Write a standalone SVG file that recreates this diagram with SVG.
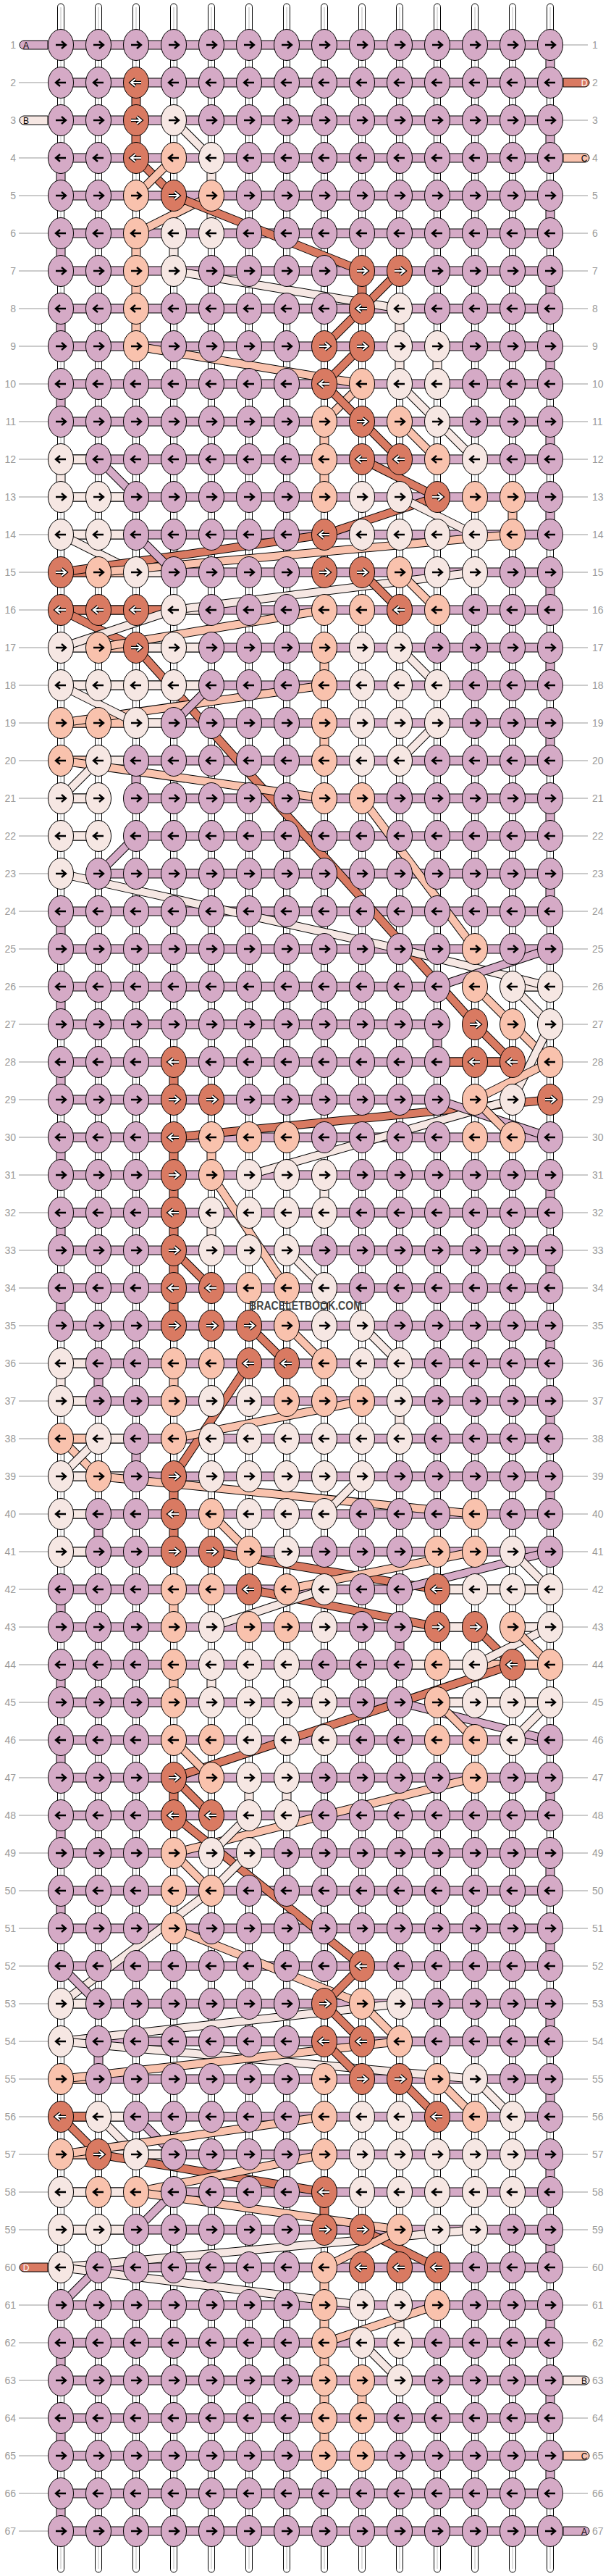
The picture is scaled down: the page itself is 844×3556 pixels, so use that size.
<svg xmlns="http://www.w3.org/2000/svg" width="844" height="3556" viewBox="0 0 844 3556">
<style>
text{font-family:"Liberation Sans",Arial,sans-serif}
.lbl{font-size:14px;fill:#9a9a9a}
.stl{font-size:12px}
.hb{fill:#d5aac6;stroke:#000}
.vp{fill:#d5aac6;stroke:#000}
.vd{fill:#d97a62;stroke:#000}
.vo{fill:#f9c2ad;stroke:#000}
.vl{fill:#f6e7e3;stroke:#000}
.vw{fill:#fff}
.x{fill:none;stroke:#000;stroke-width:12}
.cd{fill:none;stroke:#d97a62;stroke-width:10}
.co{fill:none;stroke:#f9c2ad;stroke-width:10}
.cl{fill:none;stroke:#f6e7e3;stroke-width:10}
.cp{fill:none;stroke:#d5aac6;stroke-width:10}
.d{fill:#d97a62}.o{fill:#f9c2ad}.l{fill:#f6e7e3}
</style>
<defs>
<g id="R"><ellipse rx="17.5" ry="21.5" stroke="#000"/><path d="M-7 0H6M1-5L7 0L1 5" fill="none" stroke="#000" stroke-width="2.4"/></g>
<g id="L"><ellipse rx="17.5" ry="21.5" stroke="#000"/><path d="M7 0H-6M-1-5L-7 0L-1 5" fill="none" stroke="#000" stroke-width="2.4"/></g>
<g id="RW"><ellipse rx="17.5" ry="21.5" stroke="#000"/><path d="M-7 0H6M1-5L7 0L1 5" fill="none" stroke="#000" stroke-width="4.6"/><path d="M-7 0H6M1-5L7 0L1 5" fill="none" stroke="#fff" stroke-width="2.2"/></g>
<g id="LW"><ellipse rx="17.5" ry="21.5" stroke="#000"/><path d="M7 0H-6M-1-5L-7 0L-1 5" fill="none" stroke="#000" stroke-width="4.6"/><path d="M7 0H-6M-1-5L-7 0L-1 5" fill="none" stroke="#fff" stroke-width="2.2"/></g>
</defs>
<rect width="844" height="3556" fill="#fff"/>
<g id="strings" fill="#fff" stroke="#000">
<rect x="79.5" y="5" width="9" height="3546" rx="4.5"/><rect x="131.5" y="5" width="9" height="3546" rx="4.5"/><rect x="183.5" y="5" width="9" height="3546" rx="4.5"/><rect x="235.5" y="5" width="9" height="3546" rx="4.5"/><rect x="287.5" y="5" width="9" height="3546" rx="4.5"/><rect x="339.5" y="5" width="9" height="3546" rx="4.5"/><rect x="391.5" y="5" width="9" height="3546" rx="4.5"/><rect x="443.5" y="5" width="9" height="3546" rx="4.5"/><rect x="495.5" y="5" width="9" height="3546" rx="4.5"/><rect x="547.5" y="5" width="9" height="3546" rx="4.5"/><rect x="599.5" y="5" width="9" height="3546" rx="4.5"/><rect x="651.5" y="5" width="9" height="3546" rx="4.5"/><rect x="703.5" y="5" width="9" height="3546" rx="4.5"/><rect x="755.5" y="5" width="9" height="3546" rx="4.5"/>
<path d="M84 10V3546M136 10V3546M188 10V3546M240 10V3546M292 10V3546M344 10V3546M396 10V3546M448 10V3546M500 10V3546M552 10V3546M604 10V3546M656 10V3546M708 10V3546M760 10V3546" stroke="#aaa" stroke-width="0.8"/>
</g>
<g id="labels">
<path d="M26 114H66M26 218H66M26 270H66M26 322H66M26 374H66M26 426H66M26 478H66M26 530H66M26 582H66M26 634H66M26 686H66M26 738H66M26 790H66M26 842H66M26 894H66M26 946H66M26 998H66M26 1050H66M26 1102H66M26 1154H66M26 1206H66M26 1258H66M26 1310H66M26 1362H66M26 1414H66M26 1466H66M26 1518H66M26 1570H66M26 1622H66M26 1674H66M26 1726H66M26 1778H66M26 1830H66M26 1882H66M26 1934H66M26 1986H66M26 2038H66M26 2090H66M26 2142H66M26 2194H66M26 2246H66M26 2298H66M26 2350H66M26 2402H66M26 2454H66M26 2506H66M26 2558H66M26 2610H66M26 2662H66M26 2714H66M26 2766H66M26 2818H66M26 2870H66M26 2922H66M26 2974H66M26 3026H66M26 3078H66M26 3182H66M26 3234H66M26 3286H66M26 3338H66M26 3390H66M26 3442H66M26 3494H66M778 62H812M778 166H812M778 270H812M778 322H812M778 374H812M778 426H812M778 478H812M778 530H812M778 582H812M778 634H812M778 686H812M778 738H812M778 790H812M778 842H812M778 894H812M778 946H812M778 998H812M778 1050H812M778 1102H812M778 1154H812M778 1206H812M778 1258H812M778 1310H812M778 1362H812M778 1414H812M778 1466H812M778 1518H812M778 1570H812M778 1622H812M778 1674H812M778 1726H812M778 1778H812M778 1830H812M778 1882H812M778 1934H812M778 1986H812M778 2038H812M778 2090H812M778 2142H812M778 2194H812M778 2246H812M778 2298H812M778 2350H812M778 2402H812M778 2454H812M778 2506H812M778 2558H812M778 2610H812M778 2662H812M778 2714H812M778 2766H812M778 2818H812M778 2870H812M778 2922H812M778 2974H812M778 3026H812M778 3078H812M778 3130H812M778 3182H812M778 3234H812M778 3338H812M778 3442H812" stroke="#bbb" stroke-width="1.5"/>
<g class="lbl" text-anchor="end"><text x="22" y="67">1</text><text x="22" y="119">2</text><text x="22" y="171">3</text><text x="22" y="223">4</text><text x="22" y="275">5</text><text x="22" y="327">6</text><text x="22" y="379">7</text><text x="22" y="431">8</text><text x="22" y="483">9</text><text x="22" y="535">10</text><text x="22" y="587">11</text><text x="22" y="639">12</text><text x="22" y="691">13</text><text x="22" y="743">14</text><text x="22" y="795">15</text><text x="22" y="847">16</text><text x="22" y="899">17</text><text x="22" y="951">18</text><text x="22" y="1003">19</text><text x="22" y="1055">20</text><text x="22" y="1107">21</text><text x="22" y="1159">22</text><text x="22" y="1211">23</text><text x="22" y="1263">24</text><text x="22" y="1315">25</text><text x="22" y="1367">26</text><text x="22" y="1419">27</text><text x="22" y="1471">28</text><text x="22" y="1523">29</text><text x="22" y="1575">30</text><text x="22" y="1627">31</text><text x="22" y="1679">32</text><text x="22" y="1731">33</text><text x="22" y="1783">34</text><text x="22" y="1835">35</text><text x="22" y="1887">36</text><text x="22" y="1939">37</text><text x="22" y="1991">38</text><text x="22" y="2043">39</text><text x="22" y="2095">40</text><text x="22" y="2147">41</text><text x="22" y="2199">42</text><text x="22" y="2251">43</text><text x="22" y="2303">44</text><text x="22" y="2355">45</text><text x="22" y="2407">46</text><text x="22" y="2459">47</text><text x="22" y="2511">48</text><text x="22" y="2563">49</text><text x="22" y="2615">50</text><text x="22" y="2667">51</text><text x="22" y="2719">52</text><text x="22" y="2771">53</text><text x="22" y="2823">54</text><text x="22" y="2875">55</text><text x="22" y="2927">56</text><text x="22" y="2979">57</text><text x="22" y="3031">58</text><text x="22" y="3083">59</text><text x="22" y="3135">60</text><text x="22" y="3187">61</text><text x="22" y="3239">62</text><text x="22" y="3291">63</text><text x="22" y="3343">64</text><text x="22" y="3395">65</text><text x="22" y="3447">66</text><text x="22" y="3499">67</text></g>
<g class="lbl"><text x="818" y="67">1</text><text x="818" y="119">2</text><text x="818" y="171">3</text><text x="818" y="223">4</text><text x="818" y="275">5</text><text x="818" y="327">6</text><text x="818" y="379">7</text><text x="818" y="431">8</text><text x="818" y="483">9</text><text x="818" y="535">10</text><text x="818" y="587">11</text><text x="818" y="639">12</text><text x="818" y="691">13</text><text x="818" y="743">14</text><text x="818" y="795">15</text><text x="818" y="847">16</text><text x="818" y="899">17</text><text x="818" y="951">18</text><text x="818" y="1003">19</text><text x="818" y="1055">20</text><text x="818" y="1107">21</text><text x="818" y="1159">22</text><text x="818" y="1211">23</text><text x="818" y="1263">24</text><text x="818" y="1315">25</text><text x="818" y="1367">26</text><text x="818" y="1419">27</text><text x="818" y="1471">28</text><text x="818" y="1523">29</text><text x="818" y="1575">30</text><text x="818" y="1627">31</text><text x="818" y="1679">32</text><text x="818" y="1731">33</text><text x="818" y="1783">34</text><text x="818" y="1835">35</text><text x="818" y="1887">36</text><text x="818" y="1939">37</text><text x="818" y="1991">38</text><text x="818" y="2043">39</text><text x="818" y="2095">40</text><text x="818" y="2147">41</text><text x="818" y="2199">42</text><text x="818" y="2251">43</text><text x="818" y="2303">44</text><text x="818" y="2355">45</text><text x="818" y="2407">46</text><text x="818" y="2459">47</text><text x="818" y="2511">48</text><text x="818" y="2563">49</text><text x="818" y="2615">50</text><text x="818" y="2667">51</text><text x="818" y="2719">52</text><text x="818" y="2771">53</text><text x="818" y="2823">54</text><text x="818" y="2875">55</text><text x="818" y="2927">56</text><text x="818" y="2979">57</text><text x="818" y="3031">58</text><text x="818" y="3083">59</text><text x="818" y="3135">60</text><text x="818" y="3187">61</text><text x="818" y="3239">62</text><text x="818" y="3291">63</text><text x="818" y="3343">64</text><text x="818" y="3395">65</text><text x="818" y="3447">66</text><text x="818" y="3499">67</text></g>
</g>
<g id="connectors">
<path class="hb" d="M84 56h676v12H84zM84 108h676v12H84zM84 160h676v12H84zM84 212h676v12H84zM84 264h676v12H84zM84 316h676v12H84zM84 368h676v12H84zM84 420h676v12H84zM84 472h676v12H84zM84 524h676v12H84zM84 576h676v12H84zM84 628h676v12H84zM84 680h676v12H84zM84 732h676v12H84zM84 784h676v12H84zM84 836h676v12H84zM84 888h676v12H84zM84 940h676v12H84zM84 992h676v12H84zM84 1044h676v12H84zM84 1096h676v12H84zM84 1148h676v12H84zM84 1200h676v12H84zM84 1252h676v12H84zM84 1304h676v12H84zM84 1356h676v12H84zM84 1408h676v12H84zM84 1460h676v12H84zM84 1512h676v12H84zM84 1564h676v12H84zM84 1616h676v12H84zM84 1668h676v12H84zM84 1720h676v12H84zM84 1772h676v12H84zM84 1824h676v12H84zM84 1876h676v12H84zM84 1928h676v12H84zM84 1980h676v12H84zM84 2032h676v12H84zM84 2084h676v12H84zM84 2136h676v12H84zM84 2188h676v12H84zM84 2240h676v12H84zM84 2292h676v12H84zM84 2344h676v12H84zM84 2396h676v12H84zM84 2448h676v12H84zM84 2500h676v12H84zM84 2552h676v12H84zM84 2604h676v12H84zM84 2656h676v12H84zM84 2708h676v12H84zM84 2760h676v12H84zM84 2812h676v12H84zM84 2864h676v12H84zM84 2916h676v12H84zM84 2968h676v12H84zM84 3020h676v12H84zM84 3072h676v12H84zM84 3124h676v12H84zM84 3176h676v12H84zM84 3228h676v12H84zM84 3280h676v12H84zM84 3332h676v12H84zM84 3384h676v12H84zM84 3436h676v12H84zM84 3488h676v12H84z"/>
<path class="vp" d="M66 56H33a6 6 0 0 0 0 12H66zM778 3488H808a6 6 0 0 1 0 12H778z"/>
<path class="vl" d="M66 160H33a6 6 0 0 0 0 12H66zM778 3280H808a6 6 0 0 1 0 12H778z"/>
<path class="vd" d="M778 108H808a6 6 0 0 1 0 12H778zM66 3124H33a6 6 0 0 0 0 12H66z"/>
<path class="vo" d="M778 212H808a6 6 0 0 1 0 12H778zM778 3384H808a6 6 0 0 1 0 12H778z"/>
<path class="vp" d="M754 80h12v16h-12zM754 184h12v16h-12zM754 288h12v16h-12zM754 392h12v16h-12zM754 496h12v16h-12zM754 600h12v16h-12zM754 704h12v16h-12zM754 808h12v16h-12zM754 912h12v16h-12zM754 1016h12v16h-12zM754 1120h12v16h-12zM754 1224h12v16h-12zM754 1640h12v16h-12zM754 1744h12v16h-12zM754 1848h12v16h-12zM754 1952h12v16h-12zM754 2056h12v16h-12zM754 2472h12v16h-12zM754 2576h12v16h-12zM754 2680h12v16h-12zM754 2784h12v16h-12zM754 2888h12v16h-12zM754 2992h12v16h-12zM754 3096h12v16h-12zM754 3200h12v16h-12zM754 3304h12v16h-12zM754 3408h12v16h-12zM78 236h12v16h-12zM78 340h12v16h-12zM78 444h12v16h-12zM78 548h12v16h-12zM78 1276h12v16h-12zM78 1380h12v16h-12zM78 1484h12v16h-12zM78 1588h12v16h-12zM78 1692h12v16h-12zM78 1796h12v16h-12zM78 2212h12v16h-12zM78 2316h12v16h-12zM78 2420h12v16h-12zM78 2524h12v16h-12zM78 2628h12v16h-12zM78 3252h12v16h-12zM78 3356h12v16h-12zM78 3460h12v16h-12zM286 860h12v16h-12zM182 1068h12v16h-12zM598 1432h12v16h-12zM130 1900h12v16h-12zM182 2004h12v16h-12zM130 2108h12v16h-12zM546 2264h12v16h-12zM130 2836h12v16h-12z"/>
<path class="vd" d="M182 132h12v16h-12zM182 184h12v16h-12zM494 392h12v16h-12zM234 1484h12v16h-12zM234 1588h12v16h-12zM234 1640h12v16h-12zM234 1692h12v16h-12zM234 1744h12v16h-12zM234 1796h12v16h-12zM234 2056h12v16h-12zM234 2108h12v16h-12zM234 2472h12v16h-12zM442 3044h12v16h-12z"/>
<path class="vo" d="M182 340h12v16h-12zM182 392h12v16h-12zM182 444h12v16h-12zM442 600h12v16h-12zM442 652h12v16h-12zM702 704h12v16h-12zM442 912h12v16h-12zM442 1016h12v16h-12zM286 1588h12v16h-12zM234 1900h12v16h-12zM234 2212h12v16h-12zM234 2316h12v16h-12zM442 3148h12v16h-12zM442 3200h12v16h-12zM442 3252h12v16h-12zM442 3304h12v16h-12zM442 3356h12v16h-12zM494 3304h12v16h-12z"/>
<path class="vl" d="M286 236h12v16h-12zM286 288h12v16h-12zM234 340h12v16h-12zM546 444h12v16h-12zM546 496h12v16h-12zM598 496h12v16h-12zM78 652h12v16h-12zM442 1640h12v16h-12zM286 1692h12v16h-12zM78 1900h12v16h-12zM546 1952h12v16h-12zM286 2316h12v16h-12zM338 2472h12v16h-12zM390 2472h12v16h-12zM546 3200h12v16h-12z"/>
<path class="vl" d="M99 628h22v12h-22zM99 680h22v12h-22zM151 680h22v12h-22zM99 732h22v12h-22zM151 732h22v12h-22zM203 784h22v12h-22zM255 836h22v12h-22zM99 888h22v12h-22zM203 888h22v12h-22zM255 888h22v12h-22zM99 940h22v12h-22zM151 940h22v12h-22zM203 940h22v12h-22zM255 940h22v12h-22zM203 992h22v12h-22zM151 1044h22v12h-22zM99 1096h22v12h-22zM99 1148h22v12h-22zM723 1356h22v12h-22zM99 1876h22v12h-22zM99 1928h22v12h-22zM151 1980h22v12h-22zM99 2032h22v12h-22zM151 2032h22v12h-22zM99 2084h22v12h-22zM99 2136h22v12h-22zM619 2188h22v12h-22zM671 2188h22v12h-22zM723 2188h22v12h-22zM567 2240h22v12h-22zM619 2240h22v12h-22zM723 2240h22v12h-22zM567 2292h22v12h-22zM619 2292h22v12h-22zM619 2344h22v12h-22zM671 2344h22v12h-22zM723 2344h22v12h-22zM99 2760h22v12h-22zM99 2812h22v12h-22zM151 2916h22v12h-22zM151 2968h22v12h-22zM203 2968h22v12h-22zM99 3020h22v12h-22zM151 3020h22v12h-22zM203 3020h22v12h-22zM99 3072h22v12h-22zM151 3072h22v12h-22zM99 3124h22v12h-22z"/>
<path class="vo" d="M151 784h22v12h-22zM151 888h22v12h-22zM99 992h22v12h-22zM151 992h22v12h-22zM99 1044h22v12h-22zM99 1980h22v12h-22zM671 2292h22v12h-22zM723 2292h22v12h-22zM99 2864h22v12h-22zM99 2968h22v12h-22z"/>
<path class="vd" d="M99 784h22v12h-22zM99 836h22v12h-22zM151 836h22v12h-22zM203 836h22v12h-22zM619 1460h22v12h-22zM671 1460h22v12h-22zM99 2916h22v12h-22z"/>
<path class="vw" d="M152 1095h20v14h-20zM152 1147h20v14h-20zM100 1199h20v14h-20zM620 1355h20v14h-20zM672 1355h20v14h-20zM620 1407h20v14h-20zM672 1407h20v14h-20zM724 1407h20v14h-20zM724 1459h20v14h-20zM620 1511h20v14h-20zM672 1511h20v14h-20zM724 1511h20v14h-20zM568 2187h20v14h-20zM672 2239h20v14h-20zM568 2343h20v14h-20z"/>
<path class="x" d="M240 166L292 218"/><path class="cl" d="M240 166L292 218"/>
<path class="x" d="M188 218L240 270"/><path class="cd" d="M188 218L240 270"/>
<path class="x" d="M240 218L188 270"/><path class="co" d="M240 218L188 270"/>
<path class="x" d="M292 270L188 322"/><path class="co" d="M292 270L188 322"/>
<path class="x" d="M240 270L500 374"/><path class="cd" d="M240 270L500 374"/>
<path class="x" d="M240 374L552 426"/><path class="cl" d="M240 374L552 426"/>
<path class="x" d="M552 374L500 426"/><path class="cd" d="M552 374L500 426"/>
<path class="x" d="M500 426L448 478"/><path class="cd" d="M500 426L448 478"/>
<path class="x" d="M188 478L500 530"/><path class="co" d="M188 478L500 530"/>
<path class="x" d="M500 478L448 530"/><path class="cd" d="M500 478L448 530"/>
<path class="x" d="M552 530L604 582"/><path class="cl" d="M552 530L604 582"/>
<path class="x" d="M500 530L448 582"/><path class="co" d="M500 530L448 582"/>
<path class="x" d="M448 530L500 582"/><path class="cd" d="M448 530L500 582"/>
<path class="x" d="M500 582L552 634"/><path class="cd" d="M500 582L552 634"/>
<path class="x" d="M552 582L604 634"/><path class="co" d="M552 582L604 634"/>
<path class="x" d="M604 582L656 634"/><path class="cl" d="M604 582L656 634"/>
<path class="x" d="M136 634L188 686"/><path class="cp" d="M136 634L188 686"/>
<path class="x" d="M500 634L604 686"/><path class="cd" d="M500 634L604 686"/>
<path class="x" d="M604 686L448 738"/><path class="cd" d="M604 686L448 738"/>
<path class="x" d="M552 686L656 738"/><path class="cl" d="M552 686L656 738"/>
<path class="x" d="M84 738L188 790"/><path class="cl" d="M84 738L188 790"/>
<path class="x" d="M448 738L84 790"/><path class="cd" d="M448 738L84 790"/>
<path class="x" d="M708 738L136 790"/><path class="co" d="M708 738L136 790"/>
<path class="x" d="M188 738L240 790"/><path class="cp" d="M188 738L240 790"/>
<path class="x" d="M656 790L240 842"/><path class="cl" d="M656 790L240 842"/>
<path class="x" d="M500 790L552 842"/><path class="cd" d="M500 790L552 842"/>
<path class="x" d="M552 790L604 842"/><path class="co" d="M552 790L604 842"/>
<path class="x" d="M84 842L188 894"/><path class="cd" d="M84 842L188 894"/>
<path class="x" d="M240 842L84 894"/><path class="cl" d="M240 842L84 894"/>
<path class="x" d="M448 842L136 894"/><path class="co" d="M448 842L136 894"/>
<path class="x" d="M552 894L604 946"/><path class="cl" d="M552 894L604 946"/>
<path class="x" d="M188 894L656 1414"/><path class="cd" d="M188 894L656 1414"/>
<path class="x" d="M448 946L84 998"/><path class="co" d="M448 946L84 998"/>
<path class="x" d="M84 946L188 998"/><path class="cl" d="M84 946L188 998"/>
<path class="x" d="M292 946L240 998"/><path class="cp" d="M292 946L240 998"/>
<path class="x" d="M604 998L552 1050"/><path class="cl" d="M604 998L552 1050"/>
<path class="x" d="M84 1050L448 1102"/><path class="co" d="M84 1050L448 1102"/>
<path class="x" d="M136 1050L84 1102"/><path class="cl" d="M136 1050L84 1102"/>
<path class="x" d="M500 1102L656 1310"/><path class="co" d="M500 1102L656 1310"/>
<path class="x" d="M188 1154L136 1206"/><path class="cp" d="M188 1154L136 1206"/>
<path class="x" d="M84 1206L552 1310"/><path class="cl" d="M84 1206L552 1310"/>
<path class="x" d="M552 1310L760 1362"/><path class="cl" d="M552 1310L760 1362"/>
<path class="x" d="M760 1310L604 1362"/><path class="cp" d="M760 1310L604 1362"/>
<path class="x" d="M656 1362L708 1414"/><path class="co" d="M656 1362L708 1414"/>
<path class="x" d="M708 1362L760 1414"/><path class="cl" d="M708 1362L760 1414"/>
<path class="x" d="M656 1414L708 1466"/><path class="cd" d="M656 1414L708 1466"/>
<path class="x" d="M708 1414L760 1466"/><path class="co" d="M708 1414L760 1466"/>
<path class="x" d="M760 1414L708 1518"/><path class="cl" d="M760 1414L708 1518"/>
<path class="x" d="M760 1466L656 1518"/><path class="co" d="M760 1466L656 1518"/>
<path class="x" d="M760 1518L240 1570"/><path class="cd" d="M760 1518L240 1570"/>
<path class="x" d="M708 1518L344 1622"/><path class="cl" d="M708 1518L344 1622"/>
<path class="x" d="M604 1518L760 1570"/><path class="cp" d="M604 1518L760 1570"/>
<path class="x" d="M656 1518L708 1570"/><path class="co" d="M656 1518L708 1570"/>
<path class="x" d="M292 1622L396 1778"/><path class="co" d="M292 1622L396 1778"/>
<path class="x" d="M396 1726L448 1778"/><path class="cl" d="M396 1726L448 1778"/>
<path class="x" d="M240 1726L292 1778"/><path class="cd" d="M240 1726L292 1778"/>
<path class="x" d="M344 1830L396 1882"/><path class="cd" d="M344 1830L396 1882"/>
<path class="x" d="M396 1830L448 1882"/><path class="co" d="M396 1830L448 1882"/>
<path class="x" d="M500 1830L552 1882"/><path class="cl" d="M500 1830L552 1882"/>
<path class="x" d="M344 1882L240 2038"/><path class="cd" d="M344 1882L240 2038"/>
<path class="x" d="M500 1934L240 1986"/><path class="co" d="M500 1934L240 1986"/>
<path class="x" d="M84 1986L136 2038"/><path class="co" d="M84 1986L136 2038"/>
<path class="x" d="M136 1986L84 2038"/><path class="cl" d="M136 1986L84 2038"/>
<path class="x" d="M136 2038L656 2090"/><path class="co" d="M136 2038L656 2090"/>
<path class="x" d="M500 2038L448 2090"/><path class="cl" d="M500 2038L448 2090"/>
<path class="x" d="M292 2090L344 2142"/><path class="co" d="M292 2090L344 2142"/>
<path class="x" d="M292 2142L604 2194"/><path class="cd" d="M292 2142L604 2194"/>
<path class="x" d="M656 2142L396 2194"/><path class="co" d="M656 2142L396 2194"/>
<path class="x" d="M760 2142L552 2194"/><path class="cp" d="M760 2142L552 2194"/>
<path class="x" d="M708 2142L760 2194"/><path class="cl" d="M708 2142L760 2194"/>
<path class="x" d="M344 2194L604 2246"/><path class="cd" d="M344 2194L604 2246"/>
<path class="x" d="M448 2194L292 2246"/><path class="cl" d="M448 2194L292 2246"/>
<path class="x" d="M656 2246L708 2298"/><path class="cd" d="M656 2246L708 2298"/>
<path class="x" d="M760 2246L656 2298"/><path class="cl" d="M760 2246L656 2298"/>
<path class="x" d="M708 2246L760 2298"/><path class="co" d="M708 2246L760 2298"/>
<path class="x" d="M708 2298L240 2454"/><path class="cd" d="M708 2298L240 2454"/>
<path class="x" d="M552 2350L760 2402"/><path class="cp" d="M552 2350L760 2402"/>
<path class="x" d="M604 2350L656 2402"/><path class="co" d="M604 2350L656 2402"/>
<path class="x" d="M760 2350L708 2402"/><path class="cl" d="M760 2350L708 2402"/>
<path class="x" d="M240 2402L292 2454"/><path class="co" d="M240 2402L292 2454"/>
<path class="x" d="M656 2454L240 2558"/><path class="co" d="M656 2454L240 2558"/>
<path class="x" d="M240 2454L292 2506"/><path class="cd" d="M240 2454L292 2506"/>
<path class="x" d="M240 2506L500 2714"/><path class="cd" d="M240 2506L500 2714"/>
<path class="x" d="M344 2506L292 2558"/><path class="cl" d="M344 2506L292 2558"/>
<path class="x" d="M344 2558L292 2610"/><path class="cl" d="M344 2558L292 2610"/>
<path class="x" d="M292 2610L84 2766"/><path class="cl" d="M292 2610L84 2766"/>
<path class="x" d="M240 2558L292 2610"/><path class="co" d="M240 2558L292 2610"/>
<path class="x" d="M240 2662L500 2766"/><path class="co" d="M240 2662L500 2766"/>
<path class="x" d="M500 2714L448 2766"/><path class="cd" d="M500 2714L448 2766"/>
<path class="x" d="M84 2714L136 2766"/><path class="cp" d="M84 2714L136 2766"/>
<path class="x" d="M552 2766L84 2818"/><path class="cl" d="M552 2766L84 2818"/>
<path class="x" d="M448 2766L500 2818"/><path class="cd" d="M448 2766L500 2818"/>
<path class="x" d="M500 2766L552 2818"/><path class="co" d="M500 2766L552 2818"/>
<path class="x" d="M84 2818L656 2870"/><path class="cl" d="M84 2818L656 2870"/>
<path class="x" d="M552 2818L84 2870"/><path class="co" d="M552 2818L84 2870"/>
<path class="x" d="M448 2818L500 2870"/><path class="cd" d="M448 2818L500 2870"/>
<path class="x" d="M552 2870L604 2922"/><path class="cd" d="M552 2870L604 2922"/>
<path class="x" d="M604 2870L656 2922"/><path class="co" d="M604 2870L656 2922"/>
<path class="x" d="M656 2870L708 2922"/><path class="cl" d="M656 2870L708 2922"/>
<path class="x" d="M84 2922L136 2974"/><path class="cd" d="M84 2922L136 2974"/>
<path class="x" d="M136 2922L188 2974"/><path class="cl" d="M136 2922L188 2974"/>
<path class="x" d="M188 2922L240 2974"/><path class="cp" d="M188 2922L240 2974"/>
<path class="x" d="M448 2922L84 2974"/><path class="co" d="M448 2922L84 2974"/>
<path class="x" d="M136 2974L448 3026"/><path class="cd" d="M136 2974L448 3026"/>
<path class="x" d="M448 2974L188 3026"/><path class="co" d="M448 2974L188 3026"/>
<path class="x" d="M240 3026L188 3078"/><path class="cp" d="M240 3026L188 3078"/>
<path class="x" d="M188 3026L552 3078"/><path class="co" d="M188 3026L552 3078"/>
<path class="x" d="M656 3078L84 3130"/><path class="cl" d="M656 3078L84 3130"/>
<path class="x" d="M84 3130L500 3182"/><path class="cl" d="M84 3130L500 3182"/>
<path class="x" d="M136 3130L84 3182"/><path class="cp" d="M136 3130L84 3182"/>
<path class="x" d="M500 3078L604 3130"/><path class="cd" d="M500 3078L604 3130"/>
<path class="x" d="M552 3078L448 3130"/><path class="co" d="M552 3078L448 3130"/>
<path class="x" d="M604 3182L448 3234"/><path class="co" d="M604 3182L448 3234"/>
<path class="x" d="M500 3234L552 3286"/><path class="cl" d="M500 3234L552 3286"/>
</g>
<g id="stubletters" class="stl" text-anchor="middle"><text x="36" y="66.5">A</text><text x="36" y="170.5">B</text><text x="36" y="3134.5" fill="#fff">D</text><text x="807" y="118.5" fill="#fff">D</text><text x="807" y="222.5">C</text><text x="807" y="3290.5">B</text><text x="807" y="3394.5">C</text><text x="807" y="3498.5">A</text></g>
<g id="knots" fill="#d5aac6">
<g id="row1" transform="translate(0,62)"><use id="k1-1" href="#R" x="84"/><use id="k1-2" href="#R" x="136"/><use id="k1-3" href="#R" x="188"/><use id="k1-4" href="#R" x="240"/><use id="k1-5" href="#R" x="292"/><use id="k1-6" href="#R" x="344"/><use id="k1-7" href="#R" x="396"/><use id="k1-8" href="#R" x="448"/><use id="k1-9" href="#R" x="500"/><use id="k1-10" href="#R" x="552"/><use id="k1-11" href="#R" x="604"/><use id="k1-12" href="#R" x="656"/><use id="k1-13" href="#R" x="708"/><use id="k1-14" href="#R" x="760"/></g>
<g id="row2" transform="translate(0,114)"><use id="k2-1" href="#L" x="84"/><use id="k2-2" href="#L" x="136"/><use id="k2-3" href="#LW" x="188" class="d"/><use id="k2-4" href="#L" x="240"/><use id="k2-5" href="#L" x="292"/><use id="k2-6" href="#L" x="344"/><use id="k2-7" href="#L" x="396"/><use id="k2-8" href="#L" x="448"/><use id="k2-9" href="#L" x="500"/><use id="k2-10" href="#L" x="552"/><use id="k2-11" href="#L" x="604"/><use id="k2-12" href="#L" x="656"/><use id="k2-13" href="#L" x="708"/><use id="k2-14" href="#L" x="760"/></g>
<g id="row3" transform="translate(0,166)"><use id="k3-1" href="#R" x="84"/><use id="k3-2" href="#R" x="136"/><use id="k3-3" href="#RW" x="188" class="d"/><use id="k3-4" href="#R" x="240" class="l"/><use id="k3-5" href="#R" x="292"/><use id="k3-6" href="#R" x="344"/><use id="k3-7" href="#R" x="396"/><use id="k3-8" href="#R" x="448"/><use id="k3-9" href="#R" x="500"/><use id="k3-10" href="#R" x="552"/><use id="k3-11" href="#R" x="604"/><use id="k3-12" href="#R" x="656"/><use id="k3-13" href="#R" x="708"/><use id="k3-14" href="#R" x="760"/></g>
<g id="row4" transform="translate(0,218)"><use id="k4-1" href="#L" x="84"/><use id="k4-2" href="#L" x="136"/><use id="k4-3" href="#LW" x="188" class="d"/><use id="k4-4" href="#L" x="240" class="o"/><use id="k4-5" href="#L" x="292" class="l"/><use id="k4-6" href="#L" x="344"/><use id="k4-7" href="#L" x="396"/><use id="k4-8" href="#L" x="448"/><use id="k4-9" href="#L" x="500"/><use id="k4-10" href="#L" x="552"/><use id="k4-11" href="#L" x="604"/><use id="k4-12" href="#L" x="656"/><use id="k4-13" href="#L" x="708"/><use id="k4-14" href="#L" x="760"/></g>
<g id="row5" transform="translate(0,270)"><use id="k5-1" href="#R" x="84"/><use id="k5-2" href="#R" x="136"/><use id="k5-3" href="#R" x="188" class="o"/><use id="k5-4" href="#RW" x="240" class="d"/><use id="k5-5" href="#R" x="292" class="o"/><use id="k5-6" href="#R" x="344"/><use id="k5-7" href="#R" x="396"/><use id="k5-8" href="#R" x="448"/><use id="k5-9" href="#R" x="500"/><use id="k5-10" href="#R" x="552"/><use id="k5-11" href="#R" x="604"/><use id="k5-12" href="#R" x="656"/><use id="k5-13" href="#R" x="708"/><use id="k5-14" href="#R" x="760"/></g>
<g id="row6" transform="translate(0,322)"><use id="k6-1" href="#L" x="84"/><use id="k6-2" href="#L" x="136"/><use id="k6-3" href="#L" x="188" class="o"/><use id="k6-4" href="#L" x="240" class="l"/><use id="k6-5" href="#L" x="292" class="l"/><use id="k6-6" href="#L" x="344"/><use id="k6-7" href="#L" x="396"/><use id="k6-8" href="#L" x="448"/><use id="k6-9" href="#L" x="500"/><use id="k6-10" href="#L" x="552"/><use id="k6-11" href="#L" x="604"/><use id="k6-12" href="#L" x="656"/><use id="k6-13" href="#L" x="708"/><use id="k6-14" href="#L" x="760"/></g>
<g id="row7" transform="translate(0,374)"><use id="k7-1" href="#R" x="84"/><use id="k7-2" href="#R" x="136"/><use id="k7-3" href="#R" x="188" class="o"/><use id="k7-4" href="#R" x="240" class="l"/><use id="k7-5" href="#R" x="292"/><use id="k7-6" href="#R" x="344"/><use id="k7-7" href="#R" x="396"/><use id="k7-8" href="#R" x="448"/><use id="k7-9" href="#RW" x="500" class="d"/><use id="k7-10" href="#RW" x="552" class="d"/><use id="k7-11" href="#R" x="604"/><use id="k7-12" href="#R" x="656"/><use id="k7-13" href="#R" x="708"/><use id="k7-14" href="#R" x="760"/></g>
<g id="row8" transform="translate(0,426)"><use id="k8-1" href="#L" x="84"/><use id="k8-2" href="#L" x="136"/><use id="k8-3" href="#L" x="188" class="o"/><use id="k8-4" href="#L" x="240"/><use id="k8-5" href="#L" x="292"/><use id="k8-6" href="#L" x="344"/><use id="k8-7" href="#L" x="396"/><use id="k8-8" href="#L" x="448"/><use id="k8-9" href="#LW" x="500" class="d"/><use id="k8-10" href="#L" x="552" class="l"/><use id="k8-11" href="#L" x="604"/><use id="k8-12" href="#L" x="656"/><use id="k8-13" href="#L" x="708"/><use id="k8-14" href="#L" x="760"/></g>
<g id="row9" transform="translate(0,478)"><use id="k9-1" href="#R" x="84"/><use id="k9-2" href="#R" x="136"/><use id="k9-3" href="#R" x="188" class="o"/><use id="k9-4" href="#R" x="240"/><use id="k9-5" href="#R" x="292"/><use id="k9-6" href="#R" x="344"/><use id="k9-7" href="#R" x="396"/><use id="k9-8" href="#RW" x="448" class="d"/><use id="k9-9" href="#RW" x="500" class="d"/><use id="k9-10" href="#R" x="552" class="l"/><use id="k9-11" href="#R" x="604" class="l"/><use id="k9-12" href="#R" x="656"/><use id="k9-13" href="#R" x="708"/><use id="k9-14" href="#R" x="760"/></g>
<g id="row10" transform="translate(0,530)"><use id="k10-1" href="#L" x="84"/><use id="k10-2" href="#L" x="136"/><use id="k10-3" href="#L" x="188"/><use id="k10-4" href="#L" x="240"/><use id="k10-5" href="#L" x="292"/><use id="k10-6" href="#L" x="344"/><use id="k10-7" href="#L" x="396"/><use id="k10-8" href="#LW" x="448" class="d"/><use id="k10-9" href="#L" x="500" class="o"/><use id="k10-10" href="#L" x="552" class="l"/><use id="k10-11" href="#L" x="604" class="l"/><use id="k10-12" href="#L" x="656"/><use id="k10-13" href="#L" x="708"/><use id="k10-14" href="#L" x="760"/></g>
<g id="row11" transform="translate(0,582)"><use id="k11-1" href="#R" x="84"/><use id="k11-2" href="#R" x="136"/><use id="k11-3" href="#R" x="188"/><use id="k11-4" href="#R" x="240"/><use id="k11-5" href="#R" x="292"/><use id="k11-6" href="#R" x="344"/><use id="k11-7" href="#R" x="396"/><use id="k11-8" href="#R" x="448" class="o"/><use id="k11-9" href="#RW" x="500" class="d"/><use id="k11-10" href="#R" x="552" class="o"/><use id="k11-11" href="#R" x="604" class="l"/><use id="k11-12" href="#R" x="656"/><use id="k11-13" href="#R" x="708"/><use id="k11-14" href="#R" x="760"/></g>
<g id="row12" transform="translate(0,634)"><use id="k12-1" href="#L" x="84" class="l"/><use id="k12-2" href="#L" x="136"/><use id="k12-3" href="#L" x="188"/><use id="k12-4" href="#L" x="240"/><use id="k12-5" href="#L" x="292"/><use id="k12-6" href="#L" x="344"/><use id="k12-7" href="#L" x="396"/><use id="k12-8" href="#L" x="448" class="o"/><use id="k12-9" href="#LW" x="500" class="d"/><use id="k12-10" href="#LW" x="552" class="d"/><use id="k12-11" href="#L" x="604" class="o"/><use id="k12-12" href="#L" x="656" class="l"/><use id="k12-13" href="#L" x="708"/><use id="k12-14" href="#L" x="760"/></g>
<g id="row13" transform="translate(0,686)"><use id="k13-1" href="#R" x="84" class="l"/><use id="k13-2" href="#R" x="136" class="l"/><use id="k13-3" href="#R" x="188"/><use id="k13-4" href="#R" x="240"/><use id="k13-5" href="#R" x="292"/><use id="k13-6" href="#R" x="344"/><use id="k13-7" href="#R" x="396"/><use id="k13-8" href="#R" x="448" class="o"/><use id="k13-9" href="#R" x="500" class="l"/><use id="k13-10" href="#R" x="552" class="l"/><use id="k13-11" href="#RW" x="604" class="d"/><use id="k13-12" href="#R" x="656" class="o"/><use id="k13-13" href="#R" x="708" class="o"/><use id="k13-14" href="#R" x="760"/></g>
<g id="row14" transform="translate(0,738)"><use id="k14-1" href="#L" x="84" class="l"/><use id="k14-2" href="#L" x="136" class="l"/><use id="k14-3" href="#L" x="188"/><use id="k14-4" href="#L" x="240"/><use id="k14-5" href="#L" x="292"/><use id="k14-6" href="#L" x="344"/><use id="k14-7" href="#L" x="396"/><use id="k14-8" href="#LW" x="448" class="d"/><use id="k14-9" href="#L" x="500" class="l"/><use id="k14-10" href="#L" x="552" class="l"/><use id="k14-11" href="#L" x="604" class="l"/><use id="k14-12" href="#L" x="656" class="l"/><use id="k14-13" href="#L" x="708" class="o"/><use id="k14-14" href="#L" x="760"/></g>
<g id="row15" transform="translate(0,790)"><use id="k15-1" href="#RW" x="84" class="d"/><use id="k15-2" href="#R" x="136" class="o"/><use id="k15-3" href="#R" x="188" class="l"/><use id="k15-4" href="#R" x="240"/><use id="k15-5" href="#R" x="292"/><use id="k15-6" href="#R" x="344"/><use id="k15-7" href="#R" x="396"/><use id="k15-8" href="#RW" x="448" class="d"/><use id="k15-9" href="#RW" x="500" class="d"/><use id="k15-10" href="#R" x="552" class="o"/><use id="k15-11" href="#R" x="604" class="l"/><use id="k15-12" href="#R" x="656" class="l"/><use id="k15-13" href="#R" x="708"/><use id="k15-14" href="#R" x="760"/></g>
<g id="row16" transform="translate(0,842)"><use id="k16-1" href="#LW" x="84" class="d"/><use id="k16-2" href="#LW" x="136" class="d"/><use id="k16-3" href="#LW" x="188" class="d"/><use id="k16-4" href="#L" x="240" class="l"/><use id="k16-5" href="#L" x="292"/><use id="k16-6" href="#L" x="344"/><use id="k16-7" href="#L" x="396"/><use id="k16-8" href="#L" x="448" class="o"/><use id="k16-9" href="#L" x="500" class="o"/><use id="k16-10" href="#LW" x="552" class="d"/><use id="k16-11" href="#L" x="604" class="o"/><use id="k16-12" href="#L" x="656"/><use id="k16-13" href="#L" x="708"/><use id="k16-14" href="#L" x="760"/></g>
<g id="row17" transform="translate(0,894)"><use id="k17-1" href="#R" x="84" class="l"/><use id="k17-2" href="#R" x="136" class="o"/><use id="k17-3" href="#RW" x="188" class="d"/><use id="k17-4" href="#R" x="240" class="l"/><use id="k17-5" href="#R" x="292"/><use id="k17-6" href="#R" x="344"/><use id="k17-7" href="#R" x="396"/><use id="k17-8" href="#R" x="448" class="o"/><use id="k17-9" href="#R" x="500" class="l"/><use id="k17-10" href="#R" x="552" class="l"/><use id="k17-11" href="#R" x="604"/><use id="k17-12" href="#R" x="656"/><use id="k17-13" href="#R" x="708"/><use id="k17-14" href="#R" x="760"/></g>
<g id="row18" transform="translate(0,946)"><use id="k18-1" href="#L" x="84" class="l"/><use id="k18-2" href="#L" x="136" class="l"/><use id="k18-3" href="#L" x="188" class="l"/><use id="k18-4" href="#L" x="240" class="l"/><use id="k18-5" href="#L" x="292"/><use id="k18-6" href="#L" x="344"/><use id="k18-7" href="#L" x="396"/><use id="k18-8" href="#L" x="448" class="o"/><use id="k18-9" href="#L" x="500" class="l"/><use id="k18-10" href="#L" x="552" class="l"/><use id="k18-11" href="#L" x="604" class="l"/><use id="k18-12" href="#L" x="656"/><use id="k18-13" href="#L" x="708"/><use id="k18-14" href="#L" x="760"/></g>
<g id="row19" transform="translate(0,998)"><use id="k19-1" href="#R" x="84" class="o"/><use id="k19-2" href="#R" x="136" class="o"/><use id="k19-3" href="#R" x="188" class="l"/><use id="k19-4" href="#R" x="240"/><use id="k19-5" href="#R" x="292"/><use id="k19-6" href="#R" x="344"/><use id="k19-7" href="#R" x="396"/><use id="k19-8" href="#R" x="448" class="o"/><use id="k19-9" href="#R" x="500" class="l"/><use id="k19-10" href="#R" x="552" class="l"/><use id="k19-11" href="#R" x="604" class="l"/><use id="k19-12" href="#R" x="656"/><use id="k19-13" href="#R" x="708"/><use id="k19-14" href="#R" x="760"/></g>
<g id="row20" transform="translate(0,1050)"><use id="k20-1" href="#L" x="84" class="o"/><use id="k20-2" href="#L" x="136" class="l"/><use id="k20-3" href="#L" x="188"/><use id="k20-4" href="#L" x="240"/><use id="k20-5" href="#L" x="292"/><use id="k20-6" href="#L" x="344"/><use id="k20-7" href="#L" x="396"/><use id="k20-8" href="#L" x="448" class="o"/><use id="k20-9" href="#L" x="500" class="l"/><use id="k20-10" href="#L" x="552" class="l"/><use id="k20-11" href="#L" x="604"/><use id="k20-12" href="#L" x="656"/><use id="k20-13" href="#L" x="708"/><use id="k20-14" href="#L" x="760"/></g>
<g id="row21" transform="translate(0,1102)"><use id="k21-1" href="#R" x="84" class="l"/><use id="k21-2" href="#R" x="136" class="l"/><use id="k21-3" href="#R" x="188"/><use id="k21-4" href="#R" x="240"/><use id="k21-5" href="#R" x="292"/><use id="k21-6" href="#R" x="344"/><use id="k21-7" href="#R" x="396"/><use id="k21-8" href="#R" x="448" class="o"/><use id="k21-9" href="#R" x="500" class="o"/><use id="k21-10" href="#R" x="552"/><use id="k21-11" href="#R" x="604"/><use id="k21-12" href="#R" x="656"/><use id="k21-13" href="#R" x="708"/><use id="k21-14" href="#R" x="760"/></g>
<g id="row22" transform="translate(0,1154)"><use id="k22-1" href="#L" x="84" class="l"/><use id="k22-2" href="#L" x="136" class="l"/><use id="k22-3" href="#L" x="188"/><use id="k22-4" href="#L" x="240"/><use id="k22-5" href="#L" x="292"/><use id="k22-6" href="#L" x="344"/><use id="k22-7" href="#L" x="396"/><use id="k22-8" href="#L" x="448"/><use id="k22-9" href="#L" x="500"/><use id="k22-10" href="#L" x="552"/><use id="k22-11" href="#L" x="604"/><use id="k22-12" href="#L" x="656"/><use id="k22-13" href="#L" x="708"/><use id="k22-14" href="#L" x="760"/></g>
<g id="row23" transform="translate(0,1206)"><use id="k23-1" href="#R" x="84" class="l"/><use id="k23-2" href="#R" x="136"/><use id="k23-3" href="#R" x="188"/><use id="k23-4" href="#R" x="240"/><use id="k23-5" href="#R" x="292"/><use id="k23-6" href="#R" x="344"/><use id="k23-7" href="#R" x="396"/><use id="k23-8" href="#R" x="448"/><use id="k23-9" href="#R" x="500"/><use id="k23-10" href="#R" x="552"/><use id="k23-11" href="#R" x="604"/><use id="k23-12" href="#R" x="656"/><use id="k23-13" href="#R" x="708"/><use id="k23-14" href="#R" x="760"/></g>
<g id="row24" transform="translate(0,1258)"><use id="k24-1" href="#L" x="84"/><use id="k24-2" href="#L" x="136"/><use id="k24-3" href="#L" x="188"/><use id="k24-4" href="#L" x="240"/><use id="k24-5" href="#L" x="292"/><use id="k24-6" href="#L" x="344"/><use id="k24-7" href="#L" x="396"/><use id="k24-8" href="#L" x="448"/><use id="k24-9" href="#L" x="500"/><use id="k24-10" href="#L" x="552"/><use id="k24-11" href="#L" x="604"/><use id="k24-12" href="#L" x="656"/><use id="k24-13" href="#L" x="708"/><use id="k24-14" href="#L" x="760"/></g>
<g id="row25" transform="translate(0,1310)"><use id="k25-1" href="#R" x="84"/><use id="k25-2" href="#R" x="136"/><use id="k25-3" href="#R" x="188"/><use id="k25-4" href="#R" x="240"/><use id="k25-5" href="#R" x="292"/><use id="k25-6" href="#R" x="344"/><use id="k25-7" href="#R" x="396"/><use id="k25-8" href="#R" x="448"/><use id="k25-9" href="#R" x="500"/><use id="k25-10" href="#R" x="552"/><use id="k25-11" href="#R" x="604"/><use id="k25-12" href="#R" x="656" class="o"/><use id="k25-13" href="#R" x="708"/><use id="k25-14" href="#R" x="760"/></g>
<g id="row26" transform="translate(0,1362)"><use id="k26-1" href="#L" x="84"/><use id="k26-2" href="#L" x="136"/><use id="k26-3" href="#L" x="188"/><use id="k26-4" href="#L" x="240"/><use id="k26-5" href="#L" x="292"/><use id="k26-6" href="#L" x="344"/><use id="k26-7" href="#L" x="396"/><use id="k26-8" href="#L" x="448"/><use id="k26-9" href="#L" x="500"/><use id="k26-10" href="#L" x="552"/><use id="k26-11" href="#L" x="604"/><use id="k26-12" href="#L" x="656" class="o"/><use id="k26-13" href="#L" x="708" class="l"/><use id="k26-14" href="#L" x="760" class="l"/></g>
<g id="row27" transform="translate(0,1414)"><use id="k27-1" href="#R" x="84"/><use id="k27-2" href="#R" x="136"/><use id="k27-3" href="#R" x="188"/><use id="k27-4" href="#R" x="240"/><use id="k27-5" href="#R" x="292"/><use id="k27-6" href="#R" x="344"/><use id="k27-7" href="#R" x="396"/><use id="k27-8" href="#R" x="448"/><use id="k27-9" href="#R" x="500"/><use id="k27-10" href="#R" x="552"/><use id="k27-11" href="#R" x="604"/><use id="k27-12" href="#RW" x="656" class="d"/><use id="k27-13" href="#R" x="708" class="o"/><use id="k27-14" href="#R" x="760" class="l"/></g>
<g id="row28" transform="translate(0,1466)"><use id="k28-1" href="#L" x="84"/><use id="k28-2" href="#L" x="136"/><use id="k28-3" href="#L" x="188"/><use id="k28-4" href="#LW" x="240" class="d"/><use id="k28-5" href="#L" x="292"/><use id="k28-6" href="#L" x="344"/><use id="k28-7" href="#L" x="396"/><use id="k28-8" href="#L" x="448"/><use id="k28-9" href="#L" x="500"/><use id="k28-10" href="#L" x="552"/><use id="k28-11" href="#L" x="604"/><use id="k28-12" href="#LW" x="656" class="d"/><use id="k28-13" href="#LW" x="708" class="d"/><use id="k28-14" href="#L" x="760" class="o"/></g>
<g id="row29" transform="translate(0,1518)"><use id="k29-1" href="#R" x="84"/><use id="k29-2" href="#R" x="136"/><use id="k29-3" href="#R" x="188"/><use id="k29-4" href="#RW" x="240" class="d"/><use id="k29-5" href="#RW" x="292" class="d"/><use id="k29-6" href="#R" x="344"/><use id="k29-7" href="#R" x="396"/><use id="k29-8" href="#R" x="448"/><use id="k29-9" href="#R" x="500"/><use id="k29-10" href="#R" x="552"/><use id="k29-11" href="#R" x="604"/><use id="k29-12" href="#R" x="656" class="o"/><use id="k29-13" href="#R" x="708" class="l"/><use id="k29-14" href="#RW" x="760" class="d"/></g>
<g id="row30" transform="translate(0,1570)"><use id="k30-1" href="#L" x="84"/><use id="k30-2" href="#L" x="136"/><use id="k30-3" href="#L" x="188"/><use id="k30-4" href="#LW" x="240" class="d"/><use id="k30-5" href="#L" x="292" class="o"/><use id="k30-6" href="#L" x="344" class="o"/><use id="k30-7" href="#L" x="396" class="o"/><use id="k30-8" href="#L" x="448"/><use id="k30-9" href="#L" x="500"/><use id="k30-10" href="#L" x="552"/><use id="k30-11" href="#L" x="604"/><use id="k30-12" href="#L" x="656" class="o"/><use id="k30-13" href="#L" x="708" class="o"/><use id="k30-14" href="#L" x="760"/></g>
<g id="row31" transform="translate(0,1622)"><use id="k31-1" href="#R" x="84"/><use id="k31-2" href="#R" x="136"/><use id="k31-3" href="#R" x="188"/><use id="k31-4" href="#RW" x="240" class="d"/><use id="k31-5" href="#R" x="292" class="o"/><use id="k31-6" href="#R" x="344" class="l"/><use id="k31-7" href="#R" x="396" class="l"/><use id="k31-8" href="#R" x="448" class="l"/><use id="k31-9" href="#R" x="500"/><use id="k31-10" href="#R" x="552"/><use id="k31-11" href="#R" x="604"/><use id="k31-12" href="#R" x="656"/><use id="k31-13" href="#R" x="708"/><use id="k31-14" href="#R" x="760"/></g>
<g id="row32" transform="translate(0,1674)"><use id="k32-1" href="#L" x="84"/><use id="k32-2" href="#L" x="136"/><use id="k32-3" href="#L" x="188"/><use id="k32-4" href="#LW" x="240" class="d"/><use id="k32-5" href="#L" x="292" class="l"/><use id="k32-6" href="#L" x="344" class="l"/><use id="k32-7" href="#L" x="396" class="l"/><use id="k32-8" href="#L" x="448" class="l"/><use id="k32-9" href="#L" x="500"/><use id="k32-10" href="#L" x="552"/><use id="k32-11" href="#L" x="604"/><use id="k32-12" href="#L" x="656"/><use id="k32-13" href="#L" x="708"/><use id="k32-14" href="#L" x="760"/></g>
<g id="row33" transform="translate(0,1726)"><use id="k33-1" href="#R" x="84"/><use id="k33-2" href="#R" x="136"/><use id="k33-3" href="#R" x="188"/><use id="k33-4" href="#RW" x="240" class="d"/><use id="k33-5" href="#R" x="292" class="l"/><use id="k33-6" href="#R" x="344" class="l"/><use id="k33-7" href="#R" x="396" class="l"/><use id="k33-8" href="#R" x="448"/><use id="k33-9" href="#R" x="500"/><use id="k33-10" href="#R" x="552"/><use id="k33-11" href="#R" x="604"/><use id="k33-12" href="#R" x="656"/><use id="k33-13" href="#R" x="708"/><use id="k33-14" href="#R" x="760"/></g>
<g id="row34" transform="translate(0,1778)"><use id="k34-1" href="#L" x="84"/><use id="k34-2" href="#L" x="136"/><use id="k34-3" href="#L" x="188"/><use id="k34-4" href="#LW" x="240" class="d"/><use id="k34-5" href="#LW" x="292" class="d"/><use id="k34-6" href="#L" x="344" class="o"/><use id="k34-7" href="#L" x="396" class="o"/><use id="k34-8" href="#L" x="448" class="l"/><use id="k34-9" href="#L" x="500"/><use id="k34-10" href="#L" x="552"/><use id="k34-11" href="#L" x="604"/><use id="k34-12" href="#L" x="656"/><use id="k34-13" href="#L" x="708"/><use id="k34-14" href="#L" x="760"/></g>
<g id="row35" transform="translate(0,1830)"><use id="k35-1" href="#R" x="84"/><use id="k35-2" href="#R" x="136"/><use id="k35-3" href="#R" x="188"/><use id="k35-4" href="#RW" x="240" class="d"/><use id="k35-5" href="#RW" x="292" class="d"/><use id="k35-6" href="#RW" x="344" class="d"/><use id="k35-7" href="#R" x="396" class="o"/><use id="k35-8" href="#R" x="448" class="l"/><use id="k35-9" href="#R" x="500" class="l"/><use id="k35-10" href="#R" x="552"/><use id="k35-11" href="#R" x="604"/><use id="k35-12" href="#R" x="656"/><use id="k35-13" href="#R" x="708"/><use id="k35-14" href="#R" x="760"/></g>
<g id="row36" transform="translate(0,1882)"><use id="k36-1" href="#L" x="84" class="l"/><use id="k36-2" href="#L" x="136"/><use id="k36-3" href="#L" x="188"/><use id="k36-4" href="#L" x="240" class="o"/><use id="k36-5" href="#L" x="292" class="o"/><use id="k36-6" href="#LW" x="344" class="d"/><use id="k36-7" href="#LW" x="396" class="d"/><use id="k36-8" href="#L" x="448" class="o"/><use id="k36-9" href="#L" x="500" class="l"/><use id="k36-10" href="#L" x="552" class="l"/><use id="k36-11" href="#L" x="604"/><use id="k36-12" href="#L" x="656"/><use id="k36-13" href="#L" x="708"/><use id="k36-14" href="#L" x="760"/></g>
<g id="row37" transform="translate(0,1934)"><use id="k37-1" href="#R" x="84" class="l"/><use id="k37-2" href="#R" x="136"/><use id="k37-3" href="#R" x="188"/><use id="k37-4" href="#R" x="240" class="o"/><use id="k37-5" href="#R" x="292" class="l"/><use id="k37-6" href="#R" x="344" class="l"/><use id="k37-7" href="#R" x="396" class="o"/><use id="k37-8" href="#R" x="448" class="o"/><use id="k37-9" href="#R" x="500" class="o"/><use id="k37-10" href="#R" x="552" class="l"/><use id="k37-11" href="#R" x="604"/><use id="k37-12" href="#R" x="656"/><use id="k37-13" href="#R" x="708"/><use id="k37-14" href="#R" x="760"/></g>
<g id="row38" transform="translate(0,1986)"><use id="k38-1" href="#L" x="84" class="o"/><use id="k38-2" href="#L" x="136" class="l"/><use id="k38-3" href="#L" x="188"/><use id="k38-4" href="#L" x="240" class="o"/><use id="k38-5" href="#L" x="292" class="l"/><use id="k38-6" href="#L" x="344" class="l"/><use id="k38-7" href="#L" x="396" class="l"/><use id="k38-8" href="#L" x="448" class="l"/><use id="k38-9" href="#L" x="500" class="l"/><use id="k38-10" href="#L" x="552" class="l"/><use id="k38-11" href="#L" x="604"/><use id="k38-12" href="#L" x="656"/><use id="k38-13" href="#L" x="708"/><use id="k38-14" href="#L" x="760"/></g>
<g id="row39" transform="translate(0,2038)"><use id="k39-1" href="#R" x="84" class="l"/><use id="k39-2" href="#R" x="136" class="o"/><use id="k39-3" href="#R" x="188"/><use id="k39-4" href="#RW" x="240" class="d"/><use id="k39-5" href="#R" x="292" class="l"/><use id="k39-6" href="#R" x="344" class="l"/><use id="k39-7" href="#R" x="396" class="l"/><use id="k39-8" href="#R" x="448" class="l"/><use id="k39-9" href="#R" x="500" class="l"/><use id="k39-10" href="#R" x="552"/><use id="k39-11" href="#R" x="604"/><use id="k39-12" href="#R" x="656"/><use id="k39-13" href="#R" x="708"/><use id="k39-14" href="#R" x="760"/></g>
<g id="row40" transform="translate(0,2090)"><use id="k40-1" href="#L" x="84" class="l"/><use id="k40-2" href="#L" x="136"/><use id="k40-3" href="#L" x="188"/><use id="k40-4" href="#LW" x="240" class="d"/><use id="k40-5" href="#L" x="292" class="o"/><use id="k40-6" href="#L" x="344" class="l"/><use id="k40-7" href="#L" x="396" class="l"/><use id="k40-8" href="#L" x="448" class="l"/><use id="k40-9" href="#L" x="500"/><use id="k40-10" href="#L" x="552"/><use id="k40-11" href="#L" x="604"/><use id="k40-12" href="#L" x="656" class="o"/><use id="k40-13" href="#L" x="708"/><use id="k40-14" href="#L" x="760"/></g>
<g id="row41" transform="translate(0,2142)"><use id="k41-1" href="#R" x="84" class="l"/><use id="k41-2" href="#R" x="136"/><use id="k41-3" href="#R" x="188"/><use id="k41-4" href="#RW" x="240" class="d"/><use id="k41-5" href="#RW" x="292" class="d"/><use id="k41-6" href="#R" x="344" class="o"/><use id="k41-7" href="#R" x="396" class="l"/><use id="k41-8" href="#R" x="448"/><use id="k41-9" href="#R" x="500"/><use id="k41-10" href="#R" x="552"/><use id="k41-11" href="#R" x="604" class="o"/><use id="k41-12" href="#R" x="656" class="o"/><use id="k41-13" href="#R" x="708" class="l"/><use id="k41-14" href="#R" x="760"/></g>
<g id="row42" transform="translate(0,2194)"><use id="k42-1" href="#L" x="84"/><use id="k42-2" href="#L" x="136"/><use id="k42-3" href="#L" x="188"/><use id="k42-4" href="#L" x="240" class="o"/><use id="k42-5" href="#L" x="292" class="o"/><use id="k42-6" href="#LW" x="344" class="d"/><use id="k42-7" href="#L" x="396" class="o"/><use id="k42-8" href="#L" x="448" class="l"/><use id="k42-9" href="#L" x="500"/><use id="k42-10" href="#L" x="552"/><use id="k42-11" href="#LW" x="604" class="d"/><use id="k42-12" href="#L" x="656" class="l"/><use id="k42-13" href="#L" x="708" class="l"/><use id="k42-14" href="#L" x="760" class="l"/></g>
<g id="row43" transform="translate(0,2246)"><use id="k43-1" href="#R" x="84"/><use id="k43-2" href="#R" x="136"/><use id="k43-3" href="#R" x="188"/><use id="k43-4" href="#R" x="240" class="o"/><use id="k43-5" href="#R" x="292" class="l"/><use id="k43-6" href="#R" x="344" class="o"/><use id="k43-7" href="#R" x="396" class="o"/><use id="k43-8" href="#R" x="448" class="l"/><use id="k43-9" href="#R" x="500"/><use id="k43-10" href="#R" x="552"/><use id="k43-11" href="#RW" x="604" class="d"/><use id="k43-12" href="#RW" x="656" class="d"/><use id="k43-13" href="#R" x="708" class="o"/><use id="k43-14" href="#R" x="760" class="l"/></g>
<g id="row44" transform="translate(0,2298)"><use id="k44-1" href="#L" x="84"/><use id="k44-2" href="#L" x="136"/><use id="k44-3" href="#L" x="188"/><use id="k44-4" href="#L" x="240" class="o"/><use id="k44-5" href="#L" x="292" class="l"/><use id="k44-6" href="#L" x="344" class="l"/><use id="k44-7" href="#L" x="396" class="l"/><use id="k44-8" href="#L" x="448"/><use id="k44-9" href="#L" x="500"/><use id="k44-10" href="#L" x="552"/><use id="k44-11" href="#L" x="604" class="o"/><use id="k44-12" href="#L" x="656" class="l"/><use id="k44-13" href="#LW" x="708" class="d"/><use id="k44-14" href="#L" x="760" class="o"/></g>
<g id="row45" transform="translate(0,2350)"><use id="k45-1" href="#R" x="84"/><use id="k45-2" href="#R" x="136"/><use id="k45-3" href="#R" x="188"/><use id="k45-4" href="#R" x="240" class="o"/><use id="k45-5" href="#R" x="292" class="l"/><use id="k45-6" href="#R" x="344" class="l"/><use id="k45-7" href="#R" x="396" class="l"/><use id="k45-8" href="#R" x="448" class="l"/><use id="k45-9" href="#R" x="500"/><use id="k45-10" href="#R" x="552"/><use id="k45-11" href="#R" x="604" class="o"/><use id="k45-12" href="#R" x="656" class="l"/><use id="k45-13" href="#R" x="708" class="l"/><use id="k45-14" href="#R" x="760" class="l"/></g>
<g id="row46" transform="translate(0,2402)"><use id="k46-1" href="#L" x="84"/><use id="k46-2" href="#L" x="136"/><use id="k46-3" href="#L" x="188"/><use id="k46-4" href="#L" x="240" class="o"/><use id="k46-5" href="#L" x="292" class="o"/><use id="k46-6" href="#L" x="344" class="l"/><use id="k46-7" href="#L" x="396" class="l"/><use id="k46-8" href="#L" x="448" class="l"/><use id="k46-9" href="#L" x="500"/><use id="k46-10" href="#L" x="552"/><use id="k46-11" href="#L" x="604" class="o"/><use id="k46-12" href="#L" x="656" class="o"/><use id="k46-13" href="#L" x="708" class="l"/><use id="k46-14" href="#L" x="760"/></g>
<g id="row47" transform="translate(0,2454)"><use id="k47-1" href="#R" x="84"/><use id="k47-2" href="#R" x="136"/><use id="k47-3" href="#R" x="188"/><use id="k47-4" href="#RW" x="240" class="d"/><use id="k47-5" href="#R" x="292" class="o"/><use id="k47-6" href="#R" x="344" class="l"/><use id="k47-7" href="#R" x="396" class="l"/><use id="k47-8" href="#R" x="448"/><use id="k47-9" href="#R" x="500"/><use id="k47-10" href="#R" x="552"/><use id="k47-11" href="#R" x="604"/><use id="k47-12" href="#R" x="656" class="o"/><use id="k47-13" href="#R" x="708"/><use id="k47-14" href="#R" x="760"/></g>
<g id="row48" transform="translate(0,2506)"><use id="k48-1" href="#L" x="84"/><use id="k48-2" href="#L" x="136"/><use id="k48-3" href="#L" x="188"/><use id="k48-4" href="#LW" x="240" class="d"/><use id="k48-5" href="#LW" x="292" class="d"/><use id="k48-6" href="#L" x="344" class="l"/><use id="k48-7" href="#L" x="396" class="l"/><use id="k48-8" href="#L" x="448"/><use id="k48-9" href="#L" x="500"/><use id="k48-10" href="#L" x="552"/><use id="k48-11" href="#L" x="604"/><use id="k48-12" href="#L" x="656"/><use id="k48-13" href="#L" x="708"/><use id="k48-14" href="#L" x="760"/></g>
<g id="row49" transform="translate(0,2558)"><use id="k49-1" href="#R" x="84"/><use id="k49-2" href="#R" x="136"/><use id="k49-3" href="#R" x="188"/><use id="k49-4" href="#R" x="240" class="o"/><use id="k49-5" href="#R" x="292" class="l"/><use id="k49-6" href="#R" x="344" class="l"/><use id="k49-7" href="#R" x="396"/><use id="k49-8" href="#R" x="448"/><use id="k49-9" href="#R" x="500"/><use id="k49-10" href="#R" x="552"/><use id="k49-11" href="#R" x="604"/><use id="k49-12" href="#R" x="656"/><use id="k49-13" href="#R" x="708"/><use id="k49-14" href="#R" x="760"/></g>
<g id="row50" transform="translate(0,2610)"><use id="k50-1" href="#L" x="84"/><use id="k50-2" href="#L" x="136"/><use id="k50-3" href="#L" x="188"/><use id="k50-4" href="#L" x="240" class="o"/><use id="k50-5" href="#L" x="292" class="o"/><use id="k50-6" href="#L" x="344"/><use id="k50-7" href="#L" x="396"/><use id="k50-8" href="#L" x="448"/><use id="k50-9" href="#L" x="500"/><use id="k50-10" href="#L" x="552"/><use id="k50-11" href="#L" x="604"/><use id="k50-12" href="#L" x="656"/><use id="k50-13" href="#L" x="708"/><use id="k50-14" href="#L" x="760"/></g>
<g id="row51" transform="translate(0,2662)"><use id="k51-1" href="#R" x="84"/><use id="k51-2" href="#R" x="136"/><use id="k51-3" href="#R" x="188"/><use id="k51-4" href="#R" x="240" class="o"/><use id="k51-5" href="#R" x="292"/><use id="k51-6" href="#R" x="344"/><use id="k51-7" href="#R" x="396"/><use id="k51-8" href="#R" x="448"/><use id="k51-9" href="#R" x="500"/><use id="k51-10" href="#R" x="552"/><use id="k51-11" href="#R" x="604"/><use id="k51-12" href="#R" x="656"/><use id="k51-13" href="#R" x="708"/><use id="k51-14" href="#R" x="760"/></g>
<g id="row52" transform="translate(0,2714)"><use id="k52-1" href="#L" x="84"/><use id="k52-2" href="#L" x="136"/><use id="k52-3" href="#L" x="188"/><use id="k52-4" href="#L" x="240"/><use id="k52-5" href="#L" x="292"/><use id="k52-6" href="#L" x="344"/><use id="k52-7" href="#L" x="396"/><use id="k52-8" href="#L" x="448"/><use id="k52-9" href="#LW" x="500" class="d"/><use id="k52-10" href="#L" x="552"/><use id="k52-11" href="#L" x="604"/><use id="k52-12" href="#L" x="656"/><use id="k52-13" href="#L" x="708"/><use id="k52-14" href="#L" x="760"/></g>
<g id="row53" transform="translate(0,2766)"><use id="k53-1" href="#R" x="84" class="l"/><use id="k53-2" href="#R" x="136"/><use id="k53-3" href="#R" x="188"/><use id="k53-4" href="#R" x="240"/><use id="k53-5" href="#R" x="292"/><use id="k53-6" href="#R" x="344"/><use id="k53-7" href="#R" x="396"/><use id="k53-8" href="#RW" x="448" class="d"/><use id="k53-9" href="#R" x="500" class="o"/><use id="k53-10" href="#R" x="552" class="l"/><use id="k53-11" href="#R" x="604"/><use id="k53-12" href="#R" x="656"/><use id="k53-13" href="#R" x="708"/><use id="k53-14" href="#R" x="760"/></g>
<g id="row54" transform="translate(0,2818)"><use id="k54-1" href="#L" x="84" class="l"/><use id="k54-2" href="#L" x="136"/><use id="k54-3" href="#L" x="188"/><use id="k54-4" href="#L" x="240"/><use id="k54-5" href="#L" x="292"/><use id="k54-6" href="#L" x="344"/><use id="k54-7" href="#L" x="396"/><use id="k54-8" href="#LW" x="448" class="d"/><use id="k54-9" href="#LW" x="500" class="d"/><use id="k54-10" href="#L" x="552" class="o"/><use id="k54-11" href="#L" x="604"/><use id="k54-12" href="#L" x="656"/><use id="k54-13" href="#L" x="708"/><use id="k54-14" href="#L" x="760"/></g>
<g id="row55" transform="translate(0,2870)"><use id="k55-1" href="#R" x="84" class="o"/><use id="k55-2" href="#R" x="136"/><use id="k55-3" href="#R" x="188"/><use id="k55-4" href="#R" x="240"/><use id="k55-5" href="#R" x="292"/><use id="k55-6" href="#R" x="344"/><use id="k55-7" href="#R" x="396"/><use id="k55-8" href="#R" x="448" class="o"/><use id="k55-9" href="#RW" x="500" class="d"/><use id="k55-10" href="#RW" x="552" class="d"/><use id="k55-11" href="#R" x="604" class="o"/><use id="k55-12" href="#R" x="656" class="l"/><use id="k55-13" href="#R" x="708"/><use id="k55-14" href="#R" x="760"/></g>
<g id="row56" transform="translate(0,2922)"><use id="k56-1" href="#LW" x="84" class="d"/><use id="k56-2" href="#L" x="136" class="l"/><use id="k56-3" href="#L" x="188"/><use id="k56-4" href="#L" x="240"/><use id="k56-5" href="#L" x="292"/><use id="k56-6" href="#L" x="344"/><use id="k56-7" href="#L" x="396"/><use id="k56-8" href="#L" x="448" class="o"/><use id="k56-9" href="#L" x="500" class="l"/><use id="k56-10" href="#L" x="552" class="l"/><use id="k56-11" href="#LW" x="604" class="d"/><use id="k56-12" href="#L" x="656" class="o"/><use id="k56-13" href="#L" x="708" class="l"/><use id="k56-14" href="#L" x="760"/></g>
<g id="row57" transform="translate(0,2974)"><use id="k57-1" href="#R" x="84" class="o"/><use id="k57-2" href="#RW" x="136" class="d"/><use id="k57-3" href="#R" x="188" class="l"/><use id="k57-4" href="#R" x="240"/><use id="k57-5" href="#R" x="292"/><use id="k57-6" href="#R" x="344"/><use id="k57-7" href="#R" x="396"/><use id="k57-8" href="#R" x="448" class="o"/><use id="k57-9" href="#R" x="500" class="l"/><use id="k57-10" href="#R" x="552" class="l"/><use id="k57-11" href="#R" x="604" class="l"/><use id="k57-12" href="#R" x="656" class="l"/><use id="k57-13" href="#R" x="708" class="l"/><use id="k57-14" href="#R" x="760"/></g>
<g id="row58" transform="translate(0,3026)"><use id="k58-1" href="#L" x="84" class="l"/><use id="k58-2" href="#L" x="136" class="o"/><use id="k58-3" href="#L" x="188" class="o"/><use id="k58-4" href="#L" x="240"/><use id="k58-5" href="#L" x="292"/><use id="k58-6" href="#L" x="344"/><use id="k58-7" href="#L" x="396"/><use id="k58-8" href="#LW" x="448" class="d"/><use id="k58-9" href="#L" x="500" class="l"/><use id="k58-10" href="#L" x="552" class="l"/><use id="k58-11" href="#L" x="604" class="l"/><use id="k58-12" href="#L" x="656" class="l"/><use id="k58-13" href="#L" x="708" class="l"/><use id="k58-14" href="#L" x="760"/></g>
<g id="row59" transform="translate(0,3078)"><use id="k59-1" href="#R" x="84" class="l"/><use id="k59-2" href="#R" x="136" class="l"/><use id="k59-3" href="#R" x="188"/><use id="k59-4" href="#R" x="240"/><use id="k59-5" href="#R" x="292"/><use id="k59-6" href="#R" x="344"/><use id="k59-7" href="#R" x="396"/><use id="k59-8" href="#RW" x="448" class="d"/><use id="k59-9" href="#RW" x="500" class="d"/><use id="k59-10" href="#R" x="552" class="o"/><use id="k59-11" href="#R" x="604" class="l"/><use id="k59-12" href="#R" x="656" class="l"/><use id="k59-13" href="#R" x="708"/><use id="k59-14" href="#R" x="760"/></g>
<g id="row60" transform="translate(0,3130)"><use id="k60-1" href="#L" x="84" class="l"/><use id="k60-2" href="#L" x="136"/><use id="k60-3" href="#L" x="188"/><use id="k60-4" href="#L" x="240"/><use id="k60-5" href="#L" x="292"/><use id="k60-6" href="#L" x="344"/><use id="k60-7" href="#L" x="396"/><use id="k60-8" href="#L" x="448" class="o"/><use id="k60-9" href="#LW" x="500" class="d"/><use id="k60-10" href="#LW" x="552" class="d"/><use id="k60-11" href="#LW" x="604" class="d"/><use id="k60-12" href="#L" x="656"/><use id="k60-13" href="#L" x="708"/><use id="k60-14" href="#L" x="760"/></g>
<g id="row61" transform="translate(0,3182)"><use id="k61-1" href="#R" x="84"/><use id="k61-2" href="#R" x="136"/><use id="k61-3" href="#R" x="188"/><use id="k61-4" href="#R" x="240"/><use id="k61-5" href="#R" x="292"/><use id="k61-6" href="#R" x="344"/><use id="k61-7" href="#R" x="396"/><use id="k61-8" href="#R" x="448" class="o"/><use id="k61-9" href="#R" x="500" class="l"/><use id="k61-10" href="#R" x="552" class="l"/><use id="k61-11" href="#R" x="604" class="o"/><use id="k61-12" href="#R" x="656"/><use id="k61-13" href="#R" x="708"/><use id="k61-14" href="#R" x="760"/></g>
<g id="row62" transform="translate(0,3234)"><use id="k62-1" href="#L" x="84"/><use id="k62-2" href="#L" x="136"/><use id="k62-3" href="#L" x="188"/><use id="k62-4" href="#L" x="240"/><use id="k62-5" href="#L" x="292"/><use id="k62-6" href="#L" x="344"/><use id="k62-7" href="#L" x="396"/><use id="k62-8" href="#L" x="448" class="o"/><use id="k62-9" href="#L" x="500" class="l"/><use id="k62-10" href="#L" x="552" class="l"/><use id="k62-11" href="#L" x="604"/><use id="k62-12" href="#L" x="656"/><use id="k62-13" href="#L" x="708"/><use id="k62-14" href="#L" x="760"/></g>
<g id="row63" transform="translate(0,3286)"><use id="k63-1" href="#R" x="84"/><use id="k63-2" href="#R" x="136"/><use id="k63-3" href="#R" x="188"/><use id="k63-4" href="#R" x="240"/><use id="k63-5" href="#R" x="292"/><use id="k63-6" href="#R" x="344"/><use id="k63-7" href="#R" x="396"/><use id="k63-8" href="#R" x="448" class="o"/><use id="k63-9" href="#R" x="500" class="o"/><use id="k63-10" href="#R" x="552" class="l"/><use id="k63-11" href="#R" x="604"/><use id="k63-12" href="#R" x="656"/><use id="k63-13" href="#R" x="708"/><use id="k63-14" href="#R" x="760"/></g>
<g id="row64" transform="translate(0,3338)"><use id="k64-1" href="#L" x="84"/><use id="k64-2" href="#L" x="136"/><use id="k64-3" href="#L" x="188"/><use id="k64-4" href="#L" x="240"/><use id="k64-5" href="#L" x="292"/><use id="k64-6" href="#L" x="344"/><use id="k64-7" href="#L" x="396"/><use id="k64-8" href="#L" x="448" class="o"/><use id="k64-9" href="#L" x="500" class="o"/><use id="k64-10" href="#L" x="552"/><use id="k64-11" href="#L" x="604"/><use id="k64-12" href="#L" x="656"/><use id="k64-13" href="#L" x="708"/><use id="k64-14" href="#L" x="760"/></g>
<g id="row65" transform="translate(0,3390)"><use id="k65-1" href="#R" x="84"/><use id="k65-2" href="#R" x="136"/><use id="k65-3" href="#R" x="188"/><use id="k65-4" href="#R" x="240"/><use id="k65-5" href="#R" x="292"/><use id="k65-6" href="#R" x="344"/><use id="k65-7" href="#R" x="396"/><use id="k65-8" href="#R" x="448" class="o"/><use id="k65-9" href="#R" x="500" class="o"/><use id="k65-10" href="#R" x="552"/><use id="k65-11" href="#R" x="604"/><use id="k65-12" href="#R" x="656"/><use id="k65-13" href="#R" x="708"/><use id="k65-14" href="#R" x="760"/></g>
<g id="row66" transform="translate(0,3442)"><use id="k66-1" href="#L" x="84"/><use id="k66-2" href="#L" x="136"/><use id="k66-3" href="#L" x="188"/><use id="k66-4" href="#L" x="240"/><use id="k66-5" href="#L" x="292"/><use id="k66-6" href="#L" x="344"/><use id="k66-7" href="#L" x="396"/><use id="k66-8" href="#L" x="448"/><use id="k66-9" href="#L" x="500"/><use id="k66-10" href="#L" x="552"/><use id="k66-11" href="#L" x="604"/><use id="k66-12" href="#L" x="656"/><use id="k66-13" href="#L" x="708"/><use id="k66-14" href="#L" x="760"/></g>
<g id="row67" transform="translate(0,3494)"><use id="k67-1" href="#R" x="84"/><use id="k67-2" href="#R" x="136"/><use id="k67-3" href="#R" x="188"/><use id="k67-4" href="#R" x="240"/><use id="k67-5" href="#R" x="292"/><use id="k67-6" href="#R" x="344"/><use id="k67-7" href="#R" x="396"/><use id="k67-8" href="#R" x="448"/><use id="k67-9" href="#R" x="500"/><use id="k67-10" href="#R" x="552"/><use id="k67-11" href="#R" x="604"/><use id="k67-12" href="#R" x="656"/><use id="k67-13" href="#R" x="708"/><use id="k67-14" href="#R" x="760"/></g>
</g>
<text id="watermark" x="422" y="1808" text-anchor="middle" font-size="16" font-weight="bold" fill="#444" textLength="156" lengthAdjust="spacingAndGlyphs">BRACELETBOOK.COM</text>
</svg>
